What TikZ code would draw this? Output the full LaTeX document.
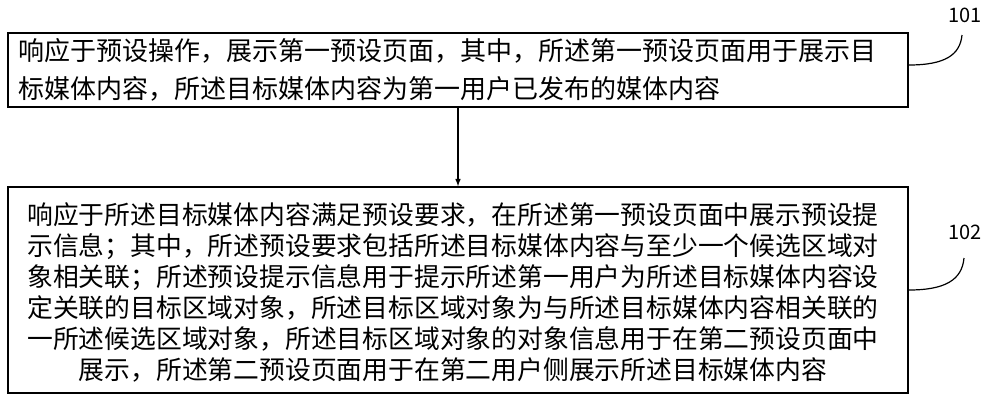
\documentclass[tikz,border=0pt]{standalone}
\usepackage{fontspec}
\setmainfont{Noto Sans CJK SC}
\begin{document}
\begin{tikzpicture}[x=1pt,y=-1pt,
  box/.style={draw,line width=1.5pt,minimum width=900pt,inner sep=0pt},
  txt/.style={align=center,inner sep=0pt},
  lbl/.style={font=\fontsize{20}{24}\selectfont}]
\useasboundingbox (0,0) rectangle (1000,400);
\node[box,minimum height=74pt] (a) at (458,70) {};
\node[txt,align=left,font=\fontsize{26}{38}\selectfont] (at) at (447,70) {响应于预设操作，展示第一预设页面，其中，所述第一预设页面用于展示目\\标媒体内容，所述目标媒体内容为第一用户已发布的媒体内容};
\node[box,minimum height=206pt] (b) at (458,290) {};
\node[txt,font=\fontsize{25.8}{31}\selectfont] (bt) at (453,292) {响应于所述目标媒体内容满足预设要求，在所述第一预设页面中展示预设提\\示信息；其中，所述预设要求包括所述目标媒体内容与至少一个候选区域对\\象相关联；所述预设提示信息用于提示所述第一用户为所述目标媒体内容设\\定关联的目标区域对象，所述目标区域对象为与所述目标媒体内容相关联的\\一所述候选区域对象，所述目标区域对象的对象信息用于在第二预设页面中\\展示，所述第二预设页面用于在第二用户侧展示所述目标媒体内容};
\draw[line width=1.5pt,-latex] (a.south) -- (b.north);
\node[lbl] (n1) at (965,15) {101};
\node[lbl] (n2) at (965,232) {102};
\draw[line width=1.2pt] (a.east|-0,65) .. controls (945,65) and (960,55) .. (962,35);
\draw[line width=1.2pt] (b.east|-0,290) .. controls (945,290) and (962,280) .. (964,258);
\end{tikzpicture}
\end{document}
